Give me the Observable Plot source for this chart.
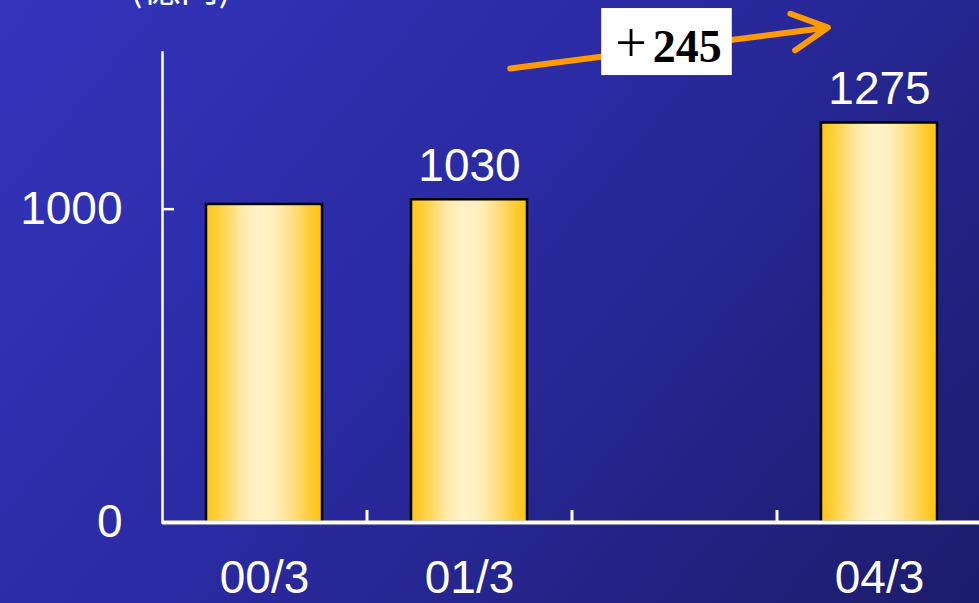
<!DOCTYPE html>
<html>
<head>
<meta charset="utf-8">
<script src="https://cdn.jsdelivr.net/npm/d3@7"></script>
<script src="https://cdn.jsdelivr.net/npm/@observablehq/plot@0.6"></script>
<style>
  html, body { margin: 0; padding: 0; overflow: hidden; background: #26269c; }
  svg { display: block; }
</style>
</head>
<body>
<script>
// Fiscal periods on the axis (the third slot is left blank)
const periods = ["00/3", "01/3", "", "04/3"];
// Bars and their amounts
const barPeriods = ["00/3", "01/3", "04/3"];
const amounts = [1015, 1030, 1275];
// Bars that carry a value label
const labeledPeriods = ["01/3", "04/3"];
// Y axis tick values
const yTicks = [0, 1000];
// Unit caption
const unitLabel = "(億円)";

const W = 979, H = 603, ML = 162, MT = 52, MB = 81;
const xRange = [ML, ML + 820];
const step = (xRange[1] - xRange[0]) / periods.length;

const bars = barPeriods.map((period, i) => ({period, amount: amounts[i]}));
const labeled = bars.filter(d => labeledPeriods.includes(d.period));
const from = bars.find(d => d.period === "01/3");
const to = bars.find(d => d.period === "04/3");
const change = to.amount - from.amount;

// Growth arrow running above the bars, from 01/3 toward 04/3
const trend = [{x1: from.period, x2: to.period, y1: from.amount + 402, y2: to.amount + 326}];
const changeLabel = [{period: periods[2], y: (trend[0].y1 + trend[0].y2) / 2, text: "＋" + change}];

const chart = Plot.plot({
  width: W,
  height: H,
  marginLeft: ML,
  marginRight: 0,
  marginTop: MT,
  marginBottom: MB,
  style: {
    background: "linear-gradient(130deg, #3434bc 0%, #2a2aa2 45%, #1c1c6c 100%)",
    color: "white",
    fontFamily: "'Liberation Sans', Arial, sans-serif",
    fontSize: "46px",
    overflow: "visible"
  },
  x: {domain: periods, range: xRange, paddingInner: 0.434, paddingOuter: 0.217, label: null},
  y: {domain: [0, 1500], label: null},
  marks: [
    Plot.barY(bars, {x: "period", y: "amount", fill: "url(#gold)", stroke: "black", strokeWidth: 2.5}),
    Plot.frame({anchor: "left", stroke: "white", strokeWidth: 2.5}),
    Plot.ruleY([0], {stroke: "white", strokeWidth: 4}),
    Plot.axisY({ticks: yTicks, tickFormat: d => String(d), tickSize: 0, tickPadding: 40, fontSize: 46, fill: "white", label: null}),
    Plot.axisY({ticks: yTicks, tickSize: 12, dx: 12, fill: "none", stroke: "white", strokeWidth: 2.5, label: null}),
    Plot.axisX({tickSize: 0, tickPadding: 38, fontSize: 46, fill: "white", label: null}),
    Plot.axisX({tickSize: 12, dy: -12, dx: step / 2, fill: "none", stroke: "white", strokeWidth: 3, label: null}),
    Plot.text(labeled, {x: "period", y: "amount", text: d => String(d.amount), dy: -34, fill: "white", fontSize: 46}),
    Plot.arrow(trend, {
      x1: "x1", y1: "y1", x2: "x2", y2: "y2",
      stroke: "#ff9a00", strokeWidth: 6, headLength: 10, headAngle: 55,
      insetStart: 41, insetEnd: 52
    }),
    Plot.text(changeLabel, {
      x: "period", y: "y", text: "text", dx: -6,
      fill: "black", fontSize: 46, fontWeight: "bold",
      fontFamily: "'Liberation Serif', 'Times New Roman', serif"
    }),
    Plot.text([unitLabel], {
      frameAnchor: "top-left", dx: 18, dy: -52, lineAnchor: "bottom", textAnchor: "middle",
      fill: "white", fontSize: 38, fontFamily: "'Noto Sans CJK JP', sans-serif"
    })
  ]
});

document.body.append(chart);

const svg = d3.select(chart);

// Gold cylinder shading for the bars
const grad = svg.insert("defs", ":first-child")
  .append("linearGradient")
  .attr("id", "gold")
  .attr("x1", 0).attr("x2", 1).attr("y1", 0).attr("y2", 0);
[
  [0, "#ffc41a"], [0.12, "#ffd142"], [0.3, "#ffe9a6"], [0.45, "#fff3c8"],
  [0.58, "#fff0c0"], [0.78, "#ffdb72"], [0.92, "#ffc928"], [1, "#ffc410"]
].forEach(([o, c]) => grad.append("stop").attr("offset", o).attr("stop-color", c));

// White box behind the change label, with a light-weight plus sign
svg.selectAll("text")
  .filter(function () { return this.textContent.startsWith("＋"); })
  .each(function () {
    const node = this;
    const t = d3.select(node);
    const s = node.textContent;
    t.text(null);
    t.append("tspan").attr("font-weight", "normal").attr("font-size", 56)
      .attr("font-family", "'Liberation Serif', serif").text("+");
    t.append("tspan").attr("dx", 6).text(s.slice(1));
    const b = node.getBBox();
    const rect = document.createElementNS("http://www.w3.org/2000/svg", "rect");
    rect.setAttribute("x", b.x - 14);
    rect.setAttribute("y", b.y - 4);
    rect.setAttribute("width", b.width + 24);
    rect.setAttribute("height", 67);
    rect.setAttribute("fill", "white");
    if (node.getAttribute("transform")) rect.setAttribute("transform", node.getAttribute("transform"));
    node.parentNode.insertBefore(rect, node);
  });
</script>
</body>
</html>
